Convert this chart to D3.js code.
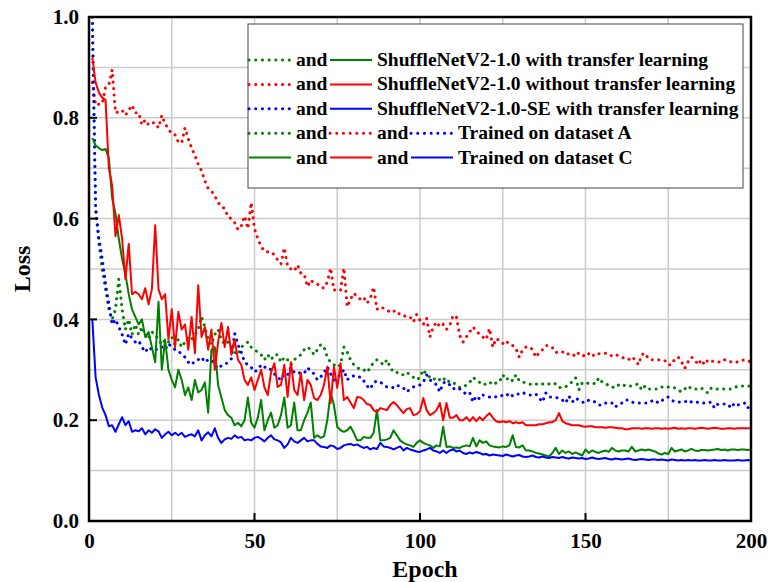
<!DOCTYPE html>
<html>
<head>
<meta charset="utf-8">
<script src="https://cdn.jsdelivr.net/npm/d3@7"></script>
<style>
body { margin: 0; background: #fff; }
text { font-family: "Liberation Serif", "Times New Roman", serif; font-weight: bold; }
</style>
</head>
<body>
<script>
// epochs 1..200
const epochs = d3.range(1, 201)

// dataset A (dotted)
const greenA = [1.0,0.62,0.55,0.5,0.46,0.42,0.4,0.42,0.48,0.42,0.38,0.4,0.37,0.39,0.37,0.385,0.37,0.36,0.375,0.37,
0.36,0.35,0.36,0.355,0.365,0.35,0.36,0.345,0.355,0.365,0.36,0.37,0.38,0.405,0.385,0.36,0.35,0.37,0.38,0.36,
0.35,0.355,0.345,0.335,0.33,0.345,0.35,0.355,0.345,0.34,0.335,0.33,0.32,0.33,0.32,0.33,0.33,0.315,0.325,0.32,
0.31,0.32,0.325,0.33,0.34,0.345,0.34,0.33,0.34,0.35,0.345,0.325,0.315,0.31,0.305,0.31,0.345,0.335,0.32,0.31,
0.305,0.3,0.3,0.295,0.305,0.315,0.32,0.315,0.31,0.32,0.305,0.295,0.295,0.29,0.29,0.295,0.29,0.285,0.28,0.285,
0.3,0.29,0.285,0.28,0.285,0.28,0.285,0.275,0.278,0.275,0.27,0.265,0.265,0.27,0.275,0.285,0.28,0.275,0.27,0.272,
0.276,0.27,0.274,0.276,0.29,0.28,0.285,0.278,0.29,0.278,0.276,0.274,0.272,0.27,0.272,0.27,0.272,0.27,0.272,0.274,
0.272,0.265,0.264,0.266,0.272,0.276,0.284,0.26,0.274,0.272,0.274,0.274,0.272,0.284,0.276,0.274,0.268,0.266,0.264,0.27,
0.272,0.268,0.268,0.268,0.27,0.272,0.26,0.268,0.262,0.262,0.262,0.262,0.266,0.264,0.266,0.266,0.264,0.26,0.256,0.262,
0.268,0.262,0.262,0.262,0.264,0.258,0.254,0.264,0.262,0.262,0.262,0.262,0.262,0.262,0.264,0.268,0.268,0.268,0.268,0.268]

const redA = [0.87,0.825,0.827,0.828,0.86,0.865,0.895,0.81,0.812,0.815,0.805,0.815,0.825,0.81,0.81,0.786,0.796,0.786,0.79,0.79,
0.78,0.805,0.788,0.778,0.768,0.766,0.752,0.75,0.78,0.758,0.74,0.725,0.708,0.695,0.675,0.66,0.655,0.645,0.632,0.624,
0.62,0.603,0.6,0.592,0.578,0.585,0.605,0.58,0.632,0.58,0.56,0.545,0.535,0.534,0.534,0.528,0.518,0.51,0.542,0.505,
0.5,0.496,0.508,0.492,0.49,0.465,0.478,0.472,0.47,0.464,0.462,0.474,0.502,0.458,0.46,0.458,0.502,0.425,0.44,0.452,
0.445,0.44,0.444,0.432,0.442,0.464,0.42,0.425,0.422,0.418,0.415,0.418,0.41,0.412,0.408,0.405,0.405,0.395,0.41,0.398,
0.39,0.402,0.365,0.385,0.395,0.385,0.39,0.38,0.388,0.408,0.405,0.368,0.355,0.365,0.375,0.385,0.378,0.37,0.365,0.36,
0.382,0.345,0.362,0.358,0.352,0.358,0.35,0.348,0.342,0.325,0.34,0.345,0.346,0.34,0.325,0.334,0.34,0.348,0.348,0.344,
0.334,0.336,0.336,0.33,0.332,0.332,0.326,0.334,0.33,0.326,0.332,0.326,0.333,0.332,0.332,0.333,0.332,0.327,0.33,0.328,
0.325,0.322,0.32,0.326,0.32,0.31,0.33,0.333,0.322,0.32,0.32,0.32,0.32,0.318,0.31,0.31,0.322,0.325,0.316,0.303,
0.316,0.325,0.32,0.31,0.32,0.31,0.32,0.317,0.317,0.316,0.315,0.32,0.317,0.316,0.317,0.315,0.318,0.32,0.318,0.315]

const blueA = [1.0,0.62,0.56,0.52,0.47,0.43,0.39,0.4,0.385,0.37,0.35,0.372,0.362,0.355,0.358,0.345,0.335,0.345,0.34,0.338,
0.345,0.345,0.34,0.352,0.345,0.34,0.338,0.33,0.325,0.315,0.31,0.318,0.32,0.325,0.315,0.32,0.32,0.31,0.302,0.308,
0.31,0.315,0.322,0.372,0.35,0.335,0.315,0.31,0.305,0.296,0.3,0.31,0.305,0.306,0.3,0.292,0.285,0.28,0.292,0.29,
0.305,0.295,0.292,0.295,0.293,0.304,0.298,0.292,0.28,0.286,0.294,0.306,0.292,0.28,0.285,0.29,0.3,0.28,0.286,0.288,
0.285,0.286,0.278,0.268,0.262,0.275,0.278,0.276,0.27,0.266,0.264,0.265,0.27,0.266,0.264,0.256,0.262,0.266,0.268,0.27,
0.275,0.29,0.28,0.276,0.27,0.256,0.274,0.276,0.27,0.262,0.265,0.262,0.256,0.252,0.255,0.236,0.248,0.242,0.25,0.248,
0.246,0.248,0.246,0.246,0.25,0.248,0.254,0.248,0.252,0.252,0.255,0.252,0.25,0.25,0.252,0.244,0.236,0.254,0.246,0.246,
0.245,0.244,0.24,0.234,0.248,0.236,0.244,0.24,0.236,0.234,0.24,0.238,0.236,0.23,0.23,0.234,0.232,0.234,0.226,0.232,
0.234,0.24,0.24,0.236,0.234,0.234,0.234,0.234,0.234,0.238,0.24,0.234,0.238,0.244,0.246,0.24,0.236,0.236,0.236,0.236,
0.24,0.236,0.234,0.236,0.234,0.234,0.234,0.236,0.224,0.232,0.232,0.232,0.232,0.224,0.234,0.23,0.232,0.234,0.224,0.232]

// dataset C (solid)
const greenC = [0.76,0.745,0.74,0.736,0.738,0.72,0.64,0.61,0.56,0.52,0.49,0.45,0.42,0.405,0.39,0.4,0.365,0.375,0.345,0.315,
0.435,0.3,0.36,0.3,0.28,0.265,0.3,0.28,0.25,0.265,0.24,0.28,0.255,0.26,0.275,0.215,0.34,0.345,0.27,0.245,
0.22,0.21,0.205,0.19,0.195,0.188,0.2,0.245,0.195,0.185,0.205,0.24,0.18,0.2,0.215,0.185,0.19,0.21,0.245,0.185,
0.19,0.235,0.18,0.18,0.2,0.215,0.235,0.165,0.17,0.165,0.168,0.2,0.255,0.23,0.187,0.18,0.177,0.18,0.187,0.175,
0.16,0.16,0.167,0.165,0.165,0.175,0.22,0.16,0.16,0.162,0.165,0.18,0.17,0.16,0.155,0.152,0.15,0.147,0.155,0.16,
0.155,0.152,0.15,0.145,0.15,0.148,0.187,0.147,0.148,0.145,0.146,0.145,0.148,0.15,0.148,0.165,0.148,0.16,0.155,0.158,
0.15,0.148,0.147,0.146,0.148,0.147,0.15,0.17,0.147,0.146,0.15,0.14,0.14,0.138,0.135,0.134,0.132,0.13,0.128,0.135,
0.145,0.133,0.14,0.135,0.138,0.133,0.136,0.133,0.13,0.142,0.135,0.14,0.137,0.135,0.138,0.14,0.137,0.145,0.14,0.138,
0.14,0.14,0.138,0.147,0.138,0.14,0.142,0.14,0.142,0.14,0.138,0.134,0.132,0.135,0.133,0.145,0.138,0.14,0.142,0.138,
0.14,0.143,0.14,0.139,0.141,0.141,0.14,0.141,0.142,0.143,0.141,0.142,0.14,0.142,0.142,0.141,0.142,0.142,0.141,0.142]

const redC = [0.92,0.87,0.85,0.84,0.835,0.7,0.665,0.565,0.607,0.56,0.48,0.55,0.45,0.455,0.45,0.44,0.462,0.43,0.46,0.587,
0.46,0.44,0.45,0.36,0.42,0.345,0.415,0.38,0.39,0.34,0.405,0.333,0.468,0.365,0.385,0.34,0.38,0.3,0.355,0.393,
0.345,0.385,0.33,0.36,0.32,0.31,0.28,0.27,0.285,0.26,0.28,0.3,0.265,0.25,0.295,0.313,0.266,0.27,0.31,0.246,
0.315,0.26,0.25,0.294,0.24,0.28,0.27,0.244,0.24,0.25,0.27,0.306,0.234,0.306,0.264,0.313,0.24,0.246,0.235,0.224,
0.246,0.245,0.24,0.232,0.23,0.22,0.216,0.224,0.222,0.22,0.23,0.236,0.23,0.222,0.214,0.222,0.224,0.21,0.212,0.218,
0.244,0.22,0.21,0.214,0.22,0.234,0.2,0.234,0.205,0.205,0.21,0.2,0.2,0.206,0.198,0.206,0.198,0.206,0.2,0.208,
0.214,0.205,0.198,0.196,0.198,0.196,0.198,0.194,0.196,0.194,0.196,0.19,0.19,0.19,0.19,0.192,0.192,0.194,0.196,0.196,
0.2,0.214,0.198,0.194,0.192,0.19,0.19,0.19,0.188,0.187,0.188,0.188,0.186,0.186,0.186,0.185,0.186,0.186,0.185,0.184,
0.184,0.182,0.182,0.184,0.184,0.184,0.183,0.184,0.184,0.183,0.184,0.184,0.183,0.184,0.183,0.184,0.185,0.183,0.184,0.183,
0.184,0.184,0.183,0.184,0.185,0.184,0.183,0.184,0.185,0.184,0.183,0.183,0.184,0.184,0.183,0.184,0.184,0.184,0.184,0.184]

const blueC = [0.4,0.285,0.25,0.225,0.21,0.188,0.19,0.177,0.192,0.206,0.19,0.198,0.177,0.18,0.178,0.184,0.172,0.18,0.175,0.182,
0.178,0.165,0.172,0.177,0.17,0.175,0.17,0.175,0.167,0.17,0.172,0.168,0.18,0.16,0.17,0.176,0.168,0.184,0.165,0.155,
0.162,0.165,0.163,0.17,0.165,0.167,0.16,0.162,0.16,0.165,0.167,0.163,0.158,0.165,0.17,0.162,0.16,0.156,0.145,0.152,
0.165,0.158,0.155,0.16,0.165,0.158,0.16,0.16,0.153,0.148,0.147,0.145,0.15,0.148,0.143,0.145,0.15,0.152,0.153,0.15,
0.152,0.148,0.145,0.147,0.142,0.145,0.143,0.155,0.148,0.147,0.145,0.142,0.145,0.148,0.14,0.145,0.142,0.14,0.138,0.137,
0.14,0.142,0.145,0.14,0.138,0.135,0.14,0.135,0.14,0.142,0.138,0.14,0.135,0.133,0.136,0.134,0.137,0.135,0.132,0.133,
0.13,0.132,0.131,0.13,0.129,0.132,0.13,0.128,0.13,0.131,0.128,0.127,0.128,0.13,0.127,0.126,0.128,0.126,0.125,0.127,
0.126,0.125,0.127,0.125,0.124,0.126,0.125,0.124,0.125,0.123,0.124,0.126,0.124,0.123,0.124,0.125,0.123,0.122,0.124,0.123,
0.122,0.123,0.124,0.122,0.121,0.122,0.123,0.122,0.121,0.122,0.122,0.121,0.122,0.121,0.12,0.122,0.121,0.12,0.121,0.12,
0.121,0.12,0.121,0.12,0.12,0.121,0.12,0.12,0.121,0.12,0.12,0.121,0.12,0.12,0.12,0.121,0.12,0.12,0.121,0.12]

const xTicks = [0, 50, 100, 150, 200]
const yTicks = [0, 0.2, 0.4, 0.6, 0.8, 1.0]
const xGrid = [25, 50, 75, 100, 125, 150, 175]
const yGrid = [0.1, 0.2, 0.3, 0.4, 0.5, 0.6, 0.7, 0.8, 0.9]

const legendRows = [
  { marks: [["green", "A"], ["green", "C"]], label: "ShuffleNetV2-1.0 with transfer learning" },
  { marks: [["red", "A"], ["red", "C"]], label: "ShuffleNetV2-1.0 without transfer learning" },
  { marks: [["blue", "A"], ["blue", "C"]], label: "ShuffleNetV2-1.0-SE with transfer learning" },
  { marks: [["green", "A"], ["red", "A"], ["blue", "A"]], label: "Trained on dataset A" },
  { marks: [["green", "C"], ["red", "C"], ["blue", "C"]], label: "Trained on dataset C" }
]

const colors = { green: "#008000", red: "#ff0000", blue: "#0000ff" }

const series = [
  { vals: greenA, color: "green", set: "A" },
  { vals: redA, color: "red", set: "A" },
  { vals: blueA, color: "blue", set: "A" },
  { vals: greenC, color: "green", set: "C" },
  { vals: redC, color: "red", set: "C" },
  { vals: blueC, color: "blue", set: "C" }
]

const width = 771
const height = 582
const margin = { top: 17, right: 20, bottom: 61, left: 89 }

const svg = d3.select("body").append("svg")
  .attr("width", width)
  .attr("height", height)

const x = d3.scaleLinear().domain([0, 200]).range([margin.left, width - margin.right])
const y = d3.scaleLinear().domain([0, 1]).range([height - margin.bottom, margin.top])

// grille
svg.append("g").selectAll("line").data(xGrid).enter().append("line")
  .attr("x1", d => x(d)).attr("x2", d => x(d))
  .attr("y1", y(0)).attr("y2", y(1))
  .attr("stroke", "#cccccc").attr("stroke-width", 1.5)
svg.append("g").selectAll("line").data(yGrid).enter().append("line")
  .attr("x1", x(0)).attr("x2", x(200))
  .attr("y1", d => y(d)).attr("y2", d => y(d))
  .attr("stroke", "#cccccc").attr("stroke-width", 1.5)

svg.append("clipPath").attr("id", "clip")
  .append("rect")
  .attr("x", x(0)).attr("y", y(1))
  .attr("width", x(200) - x(0)).attr("height", y(0) - y(1))

const line = d3.line().x((d, i) => x(epochs[i])).y(d => y(d))

const plot = svg.append("g").attr("clip-path", "url(#clip)")
series.forEach(s => {
  const p = plot.append("path")
    .datum(s.vals)
    .attr("d", line)
    .attr("fill", "none")
    .attr("stroke", colors[s.color])
  if (s.set === "A") {
    p.attr("stroke-width", 3).attr("stroke-linecap", "round").attr("stroke-dasharray", "0.1 6.4")
  } else {
    p.attr("stroke-width", 2).attr("stroke-linejoin", "round")
  }
})

// axes (labels)
svg.append("g")
  .attr("transform", `translate(0,${y(0)})`)
  .call(d3.axisBottom(x).tickValues(xTicks).tickSize(0).tickPadding(12).tickFormat(d3.format("d")))
  .call(g => g.select(".domain").remove())
  .selectAll("text").attr("font-size", 21).attr("fill", "#000")

svg.append("g")
  .attr("transform", `translate(${x(0) - 10},0)`)
  .call(d3.axisLeft(y).tickValues(yTicks).tickSize(0).tickPadding(0).tickFormat(d3.format(".1f")))
  .call(g => g.select(".domain").remove())
  .selectAll("text").attr("font-size", 21).attr("fill", "#000")

// petites graduations vers l'intérieur
svg.append("g").selectAll("line").data([50, 100, 150]).enter().append("line")
  .attr("x1", d => x(d)).attr("x2", d => x(d))
  .attr("y1", y(0)).attr("y2", y(0) - 8)
  .attr("stroke", "#000").attr("stroke-width", 2)
svg.append("g").selectAll("line").data([0.2, 0.4, 0.6, 0.8]).enter().append("line")
  .attr("x1", x(0)).attr("x2", x(0) + 8)
  .attr("y1", d => y(d)).attr("y2", d => y(d))
  .attr("stroke", "#000").attr("stroke-width", 2)

// cadre
svg.append("rect")
  .attr("x", x(0)).attr("y", y(1))
  .attr("width", x(200) - x(0)).attr("height", y(0) - y(1))
  .attr("fill", "none").attr("stroke", "#000").attr("stroke-width", 2.5)

svg.append("text")
  .attr("x", (x(0) + x(200)) / 2 + 5).attr("y", 577)
  .attr("text-anchor", "middle").attr("font-size", 24)
  .text("Epoch")

svg.append("text")
  .attr("transform", `translate(30,${(y(0) + y(1)) / 2}) rotate(-90)`)
  .attr("text-anchor", "middle").attr("font-size", 24)
  .text("Loss")

// légende
const legend = svg.append("g")
legend.append("rect")
  .attr("x", 248).attr("y", 24).attr("width", 495).attr("height", 164)
  .attr("fill", "#fff").attr("stroke", "#444").attr("stroke-width", 1)

legendRows.forEach((row, r) => {
  const ly = 60 + r * 24.4
  let cx = 249
  row.marks.forEach((m, k) => {
    const seg = legend.append("line")
      .attr("x1", cx).attr("x2", cx + 42)
      .attr("y1", ly).attr("y2", ly)
      .attr("stroke", colors[m[0]])
    if (m[1] === "A") {
      seg.attr("stroke-width", 3).attr("stroke-linecap", "round").attr("stroke-dasharray", "0.1 6.6")
    } else {
      seg.attr("stroke-width", 2)
    }
    cx += 47
    if (k < row.marks.length - 1) {
      legend.append("text").attr("x", cx).attr("y", ly + 6)
        .attr("font-size", 19.5).text("and")
      cx += 34
    }
  })
  legend.append("text").attr("x", cx).attr("y", ly + 6)
    .attr("font-size", 19.5).text(row.label)
})
</script>
</body>
</html>
